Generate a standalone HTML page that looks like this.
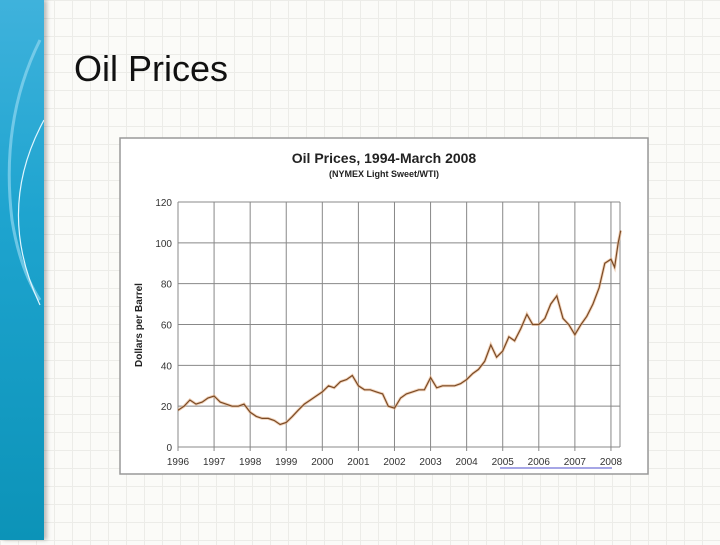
<!DOCTYPE html>
<html><head><meta charset="utf-8"><style>
body{margin:0;width:720px;height:540px;overflow:hidden;position:relative;font-family:"Liberation Sans",sans-serif;
background-color:#fbfbf8;background-image:linear-gradient(#ecece8 1px,transparent 1px),linear-gradient(90deg,#ecece8 1px,transparent 1px);background-size:18px 18px;}
#strip{position:absolute;left:0;top:0;width:44px;height:540px;background:linear-gradient(180deg,#3fb2dc 0%,#1ea4cf 40%,#0c93b8 100%);box-shadow:3px 0 4px rgba(0,0,0,0.25);}
#title{position:absolute;left:74px;top:48px;font-size:36px;color:#111;font-family:"Liberation Sans",sans-serif;}
</style></head><body>
<div id="strip">
<svg width="44" height="540"><path d="M40 40 Q0 120 12 220 Q20 270 40 300" fill="none" stroke="#8fd6ef" stroke-width="3" opacity="0.7"/><path d="M44 120 Q-5 210 40 305" fill="none" stroke="#e0f6ff" stroke-width="1.2"/></svg>
</div>
<div id="title">Oil Prices</div>
<svg id="chart" style="position:absolute;left:0;top:0" width="720" height="540"></svg>
<script>
const years=[1996,1996.17,1996.33,1996.5,1996.67,1996.83,1997,1997.17,1997.33,1997.5,1997.67,1997.83,1998,1998.17,1998.33,1998.5,1998.67,1998.83,1999,1999.17,1999.33,1999.5,1999.67,1999.83,2000,2000.17,2000.33,2000.5,2000.67,2000.83,2001,2001.17,2001.33,2001.5,2001.67,2001.83,2002,2002.17,2002.33,2002.5,2002.67,2002.83,2003,2003.17,2003.33,2003.5,2003.67,2003.83,2004,2004.17,2004.33,2004.5,2004.67,2004.83,2005,2005.17,2005.33,2005.5,2005.67,2005.83,2006,2006.17,2006.33,2006.5,2006.67,2006.83,2007,2007.17,2007.33,2007.5,2007.67,2007.83,2008,2008.1,2008.2,2008.27];
const prices=[18,20,23,21,22,24,25,22,21,20,20,21,17,15,14,14,13,11,12,15,18,21,23,25,27,30,29,32,33,35,30,28,28,27,26,20,19,24,26,27,28,28,34,29,30,30,30,31,33,36,38,42,50,44,47,54,52,58,65,60,60,63,70,74,63,60,55,60,64,70,78,90,92,88,100,106];
const yTicks=[0,20,40,60,80,100,120];
const xTicks=[1996,1997,1998,1999,2000,2001,2002,2003,2004,2005,2006,2007,2008];
const NS='http://www.w3.org/2000/svg',svg=document.getElementById('chart');
const L=178,R=620,T=202,B=447;
const xs=y=>L+(y-1996)*36.08, ys=v=>B-v/120*(B-T);
function el(t,a,p){const e=document.createElementNS(NS,t);for(const k in a)e.setAttribute(k,a[k]);(p||svg).appendChild(e);return e;}
let bx=el('rect',{x:120,y:138,width:528,height:336,fill:'#fff',stroke:'#999','stroke-width':1.5});


let t1=el('text',{x:384,y:163,'text-anchor':'middle','font-size':14,'font-weight':'bold',fill:'#222'});t1.textContent='Oil Prices, 1994-March 2008';


let t2=el('text',{x:384,y:177,'text-anchor':'middle','font-size':9,'font-weight':'bold',fill:'#222'});t2.textContent='(NYMEX Light Sweet/WTI)';


yTicks.forEach(v=>{const g=el('line',{x1:L,x2:R,y1:ys(v),y2:ys(v),stroke:'#888','stroke-width':1});


const tx=el('text',{x:L-6,y:ys(v)+4,'text-anchor':'end','font-size':10,fill:'#333'});tx.textContent=v;

});
xTicks.forEach(y=>{const g=el('line',{x1:xs(y),x2:xs(y),y1:T,y2:B+4,stroke:'#888','stroke-width':1});


const tx=el('text',{x:xs(y),y:B+18,'text-anchor':'middle','font-size':10,fill:'#333'});tx.textContent=y;

});
el('line',{x1:R,x2:R,y1:T,y2:B,stroke:'#888'});
let yt=el('text',{x:142,y:325,'text-anchor':'middle','font-size':10,'font-weight':'bold',fill:'#222',transform:'rotate(-90 142 325)'});yt.textContent='Dollars per Barrel';


let src=el('line',{x1:500,x2:612,y1:468,y2:468,stroke:'#8888dd','stroke-width':1.5});


const pts=years.map((y,i)=>xs(y).toFixed(1)+','+ys(prices[i]).toFixed(1)).join(' ');
let ln=el('polyline',{points:pts,fill:'none',stroke:'#e8b48a','stroke-width':3,opacity:0.6});


let ln2=el('polyline',{points:pts,fill:'none',stroke:'#7a4a25','stroke-width':1.2});


</script>
</body></html>
